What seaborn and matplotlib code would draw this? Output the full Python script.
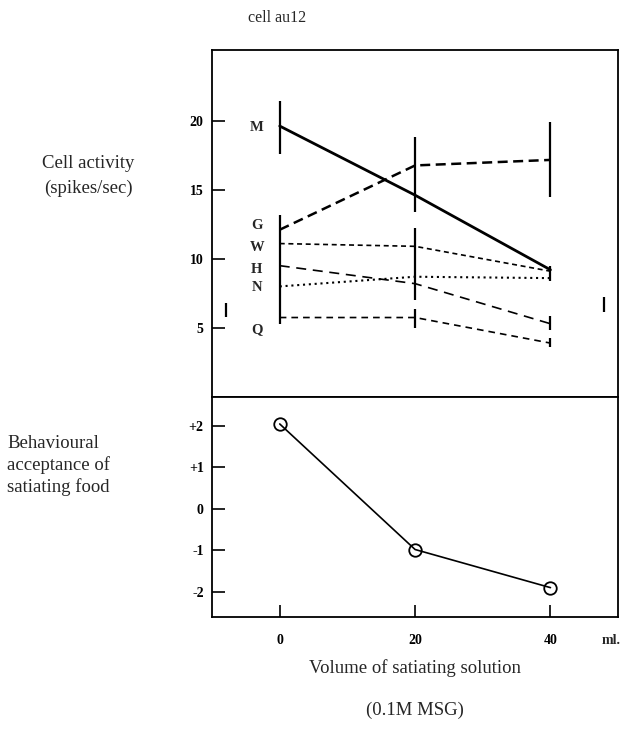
import matplotlib
matplotlib.use("Agg")
import matplotlib.pyplot as plt
import seaborn as sns
import pandas as pd

# volumes of satiating solution (ml)
volume = [0, 20, 40]

# cell activity for each taste stimulus (spikes/sec)
act_M = [19.6, 14.6, 9.2]
act_G = [12.1, 16.75, 17.15]
act_W = [11.1, 10.9, 9.1]
act_H = [9.5, 8.2, 5.3]
act_N = [8.0, 8.7, 8.6]
act_Q = [5.75, 5.75, 3.9]

# error bars as drawn: x, low, high
err_x = [0, 0, 20, 20, 20, 40, 40, 40, 40, -8, 47.9]
err_lo = [17.6, 5.3, 13.4, 7.0, 5.0, 14.5, 8.4, 4.85, 3.6, 5.8, 6.15]
err_hi = [21.4, 13.2, 18.8, 12.2, 6.4, 19.9, 9.5, 5.85, 4.3, 6.8, 7.25]

# behavioural acceptance
accept = [2.05, -0.98, -1.9]

# label positions next to the lines
lab_names = ["M", "G", "W", "H", "N", "Q"]
lab_y = [19.5, 12.4, 10.8, 9.2, 7.9, 4.85]

sns.set_style("ticks")
plt.rcParams["font.family"] = ["Liberation Serif", "DejaVu Serif"]

fig = plt.figure(figsize=(6.2, 7.29), dpi=100)
ax1 = fig.add_axes([0.342, 0.4554, 0.655, 0.476])
ax2 = fig.add_axes([0.342, 0.153, 0.655, 0.3024])

series = [
    ("M", act_M, "-", 2.0),
    ("G", act_G, (0, (4, 2.2)), 1.8),
    ("W", act_W, (0, (3, 2.2)), 1.2),
    ("H", act_H, (0, (6, 4)), 1.2),
    ("N", act_N, (0, (1, 1.8)), 1.5),
    ("Q", act_Q, (0, (4, 3)), 1.2),
]
for name, vals, ls, lw in series:
    df = pd.DataFrame({"volume": volume, "activity": vals})
    sns.lineplot(data=df, x="volume", y="activity", ax=ax1, color="black",
                 linestyle=ls, linewidth=lw)

ax1.vlines(err_x, err_lo, err_hi, color="black", linewidth=1.6)

for name, y in zip(lab_names, lab_y):
    ax1.text(-3.4, y, name, ha="center", va="center", fontsize=10.5,
             fontweight="bold")

ax1.set_xlim(-10, 50)
ax1.set_ylim(0, 25.1)
ax1.set_yticks([5, 10, 15, 20])
ax1.set_xticks([])
ax1.set_xlabel("")
ax1.set_ylabel("")

df2 = pd.DataFrame({"volume": volume, "accept": accept})
sns.lineplot(data=df2, x="volume", y="accept", ax=ax2, color="black",
             linewidth=1.2, marker="o", markersize=9,
             markerfacecolor="none", markeredgecolor="black",
             markeredgewidth=1.3)
ax2.set_xlim(-10, 50)
ax2.set_ylim(-2.62, 2.7)
ax2.set_yticks([2, 1, 0, -1, -2])
ax2.set_yticklabels(["+2", "+1", "0", "-1", "-2"])
ax2.set_xticks(volume)
ax2.set_xlabel("")
ax2.set_ylabel("")

for ax in (ax1, ax2):
    for sp in ax.spines.values():
        sp.set_visible(True)
        sp.set_linewidth(1.3)
        sp.set_color("black")
    ax.tick_params(direction="in", length=9, width=1.2, labelsize=10,
                   pad=6, colors="black")
    for lab in ax.get_xticklabels() + ax.get_yticklabels():
        lab.set_fontweight("bold")
ax2.tick_params(axis="x", pad=12)

fig.text(0.40, 1 - 18 / 729, "cell au12", fontsize=11.5, ha="left", va="center")
fig.text(0.142, 1 - 163 / 729, "Cell activity", fontsize=13.5, ha="center", va="center")
fig.text(0.142, 1 - 188 / 729, "(spikes/sec)", fontsize=13.5, ha="center", va="center")
fig.text(0.012, 1 - 443 / 729, "Behavioural", fontsize=13.5, ha="left", va="center")
fig.text(0.012, 1 - 465 / 729, "acceptance of", fontsize=13.5, ha="left", va="center")
fig.text(0.012, 1 - 487 / 729, "satiating food", fontsize=13.5, ha="left", va="center")
fig.text(0.985, 1 - 640 / 729, "ml.", fontsize=10, ha="center", va="center",
         fontweight="bold")
fig.text(0.67, 1 - 668 / 729, "Volume of satiating solution", fontsize=13.5,
         ha="center", va="center")
fig.text(0.67, 1 - 710 / 729, "(0.1M MSG)", fontsize=13.5, ha="center", va="center")

fig.savefig("out.png", dpi=100)
